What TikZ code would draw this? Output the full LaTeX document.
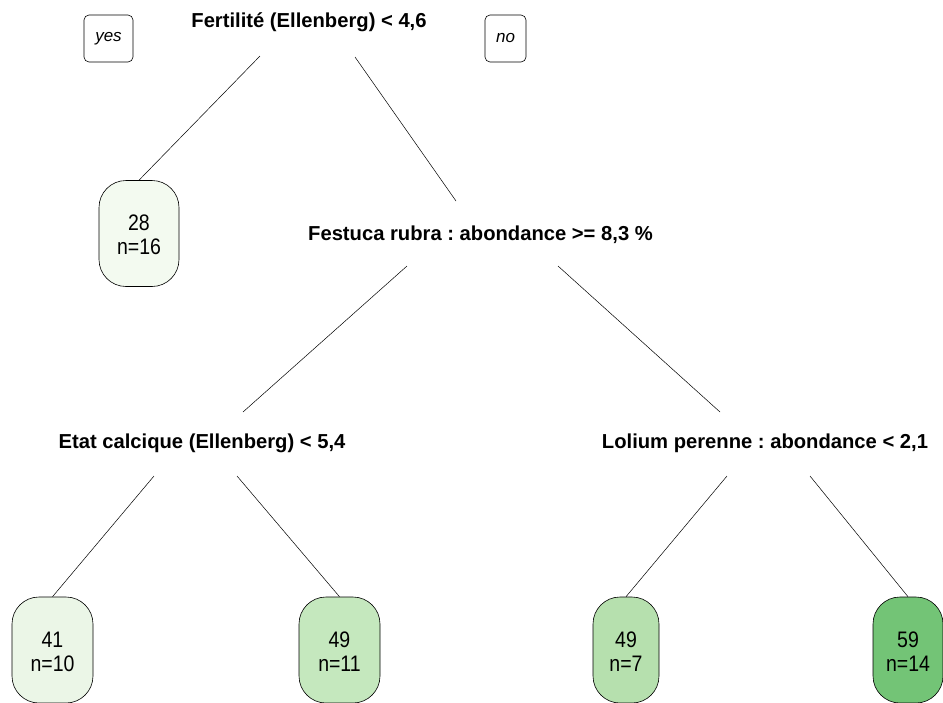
\documentclass[tikz,border=0pt]{standalone}
\usepackage{graphicx}
\usepackage{fontspec}
\setmainfont{Liberation Sans}
\frenchspacing
\definecolor{cA}{HTML}{F3FAF0}
\definecolor{cB}{HTML}{EBF6E7}
\definecolor{cC}{HTML}{C5E8BE}
\definecolor{cD}{HTML}{B6E0AE}
\definecolor{cE}{HTML}{73C476}
\newcommand{\leaftxt}[2]{\raisebox{0pt}[\dimexpr\height+9pt\relax][\depth]{\scalebox{1}[1.15]{\begin{tabular}{@{}c@{}}#1\\#2\end{tabular}}}}
\begin{document}
\begin{tikzpicture}[x=1pt,y=-1pt,
  split/.style={font=\fontsize{20.2}{24}\selectfont\bfseries, inner sep=0pt},
  leaf/.style={draw=black, line width=0.6pt, rounded corners=27pt, minimum height=106pt, align=center, font=\fontsize{19.5}{21}\selectfont, inner sep=0pt},
  tag/.style={draw=black, line width=0.6pt, rounded corners=5pt, minimum height=47pt, font=\fontsize{17}{19}\selectfont\itshape, inner sep=0pt},
  br/.style={line width=0.5pt, draw=black}]
\useasboundingbox (0,0) rectangle (943,702);
\fill[white] (0,0) rectangle (943,702);
% split labels
\node[split] (root) at (309,22) {Fertilité (Ellenberg) < 4,6};
\node[split] (fest) at (480.5,235) {Festuca rubra : abondance >= 8,3 \%};
\node[split] (etat) at (202,443) {Etat calcique (Ellenberg) < 5,4};
\node[split] (lol) at (765,443) {Lolium perenne : abondance < 2,1};
% yes / no
\node[tag, minimum width=49pt] (yes) at (108.5,38.5) {yes};
\node[tag, minimum width=41pt] (no) at (505.5,38.5) {no};
% leaves
\node[leaf, fill=cA, minimum width=80pt] (l28) at (139,233.5) {\leaftxt{28}{n=16}};
\node[leaf, fill=cB, minimum width=81pt] (l41) at (52.5,650) {\leaftxt{41}{n=10}};
\node[leaf, fill=cC, minimum width=81pt] (l49a) at (339.5,650) {\leaftxt{49}{n=11}};
\node[leaf, fill=cD, minimum width=66pt] (l49b) at (626,650) {\leaftxt{49}{n=7}};
\node[leaf, fill=cE, minimum width=70pt] (l59) at (908,650) {\leaftxt{59}{n=14}};
% branch start points
\coordinate (rL) at (260,56);
\coordinate (rR) at (355,57);
\coordinate (fL) at (407,266);
\coordinate (fR) at (558,266);
\coordinate (eL) at (154,476);
\coordinate (eR) at (237,476);
\coordinate (lL) at (727,476);
\coordinate (lR) at (810,476);
\coordinate (fT) at (456,201);
\coordinate (eT) at (243,412);
\coordinate (lT) at (720,412);
% branches
\draw[br] (rL) -- (l28.north);
\draw[br] (rR) -- (fT);
\draw[br] (fL) -- (eT);
\draw[br] (fR) -- (lT);
\draw[br] (eL) -- (l41.north);
\draw[br] (eR) -- (l49a.north);
\draw[br] (lL) -- (l49b.north);
\draw[br] (lR) -- (l59.north);
\end{tikzpicture}
\end{document}
